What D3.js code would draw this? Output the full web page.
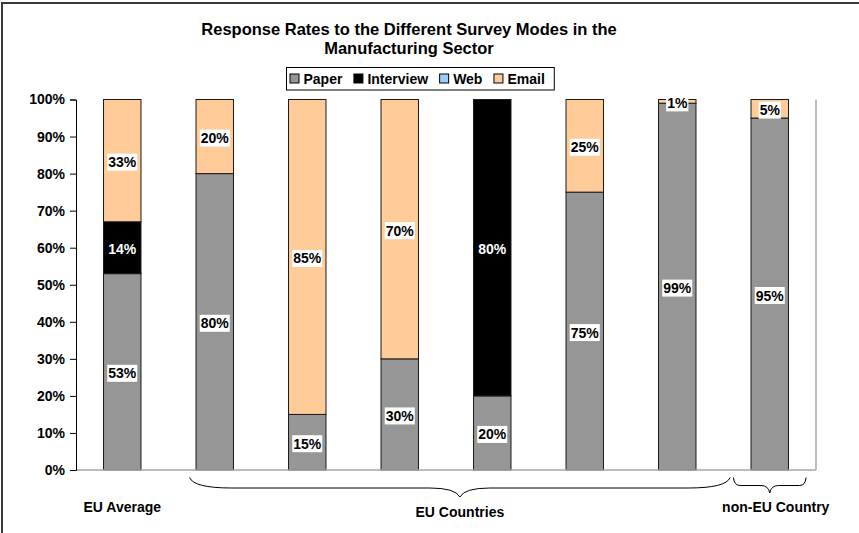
<!DOCTYPE html>
<html>
<head>
<meta charset="utf-8">
<script src="https://cdn.jsdelivr.net/npm/d3@7"></script>
<style>
  html, body { margin: 0; padding: 0; background: #fff; }
  svg { display: block; font-family: Arial, "Liberation Sans", sans-serif; }
</style>
</head>
<body>
<svg id="chart" width="859" height="533"></svg>
<script>
// Response shares (%) per survey mode, one entry per bar
const categories = ["avg", "eu1", "eu2", "eu3", "eu4", "eu5", "eu6", "noneu1"];
const paper     = [53, 80, 15, 30, 20, 75, 99, 95];
const interview = [14,  0,  0,  0, 80,  0,  0,  0];
const web       = [ 0,  0,  0,  0,  0,  0,  0,  0];
const email     = [33, 20, 85, 70,  0, 25,  1,  5];

const seriesNames  = ["Paper", "Interview", "Web", "Email"];
const seriesColors = ["#969696", "#000000", "#99ccff", "#ffcc99"];
const labelOnDark  = [false, true, false, false];

const yTicks = [0, 10, 20, 30, 40, 50, 60, 70, 80, 90, 100];

// Category groups shown beneath the axis
const groupLabels = ["EU Average", "EU Countries", "non-EU Country"];
const groupFirst  = [0, 1, 7];
const groupLast   = [0, 6, 7];
const groupBrace  = [false, true, true];

const title = ["Response Rates to the Different Survey Modes in the", "Manufacturing Sector"];

// ---------------------------------------------------------------
const svg = d3.select("#chart");
const W = 859, H = 533;
const plot = { left: 76, right: 816, top: 99.5, bottom: 470 };

// outer chart frame (top and left edges visible)
svg.append("path")
  .attr("d", `M2,${H} L2,3 L${W},3`)
  .attr("fill", "none")
  .attr("stroke", "#3a3a3a")
  .attr("stroke-width", 2);

// title
const titleG = svg.append("text")
  .attr("text-anchor", "middle")
  .attr("font-weight", "bold")
  .attr("font-size", 16.5)
  .attr("fill", "#000");
title.forEach((line, i) => {
  titleG.append("tspan").attr("x", 409).attr("y", 35 + i * 19).text(line);
});

// scales
const x = d3.scaleBand()
  .domain(categories)
  .range([plot.left, plot.right])
  .paddingInner(0.595)
  .paddingOuter(0.2975);

const y = d3.scaleLinear().domain([0, 100]).range([plot.bottom, plot.top]);

// stacked data
const table = categories.map((c, i) => ({
  cat: c,
  Paper: paper[i], Interview: interview[i], Web: web[i], Email: email[i]
}));
const stacked = d3.stack().keys(seriesNames)(table);

// plot frame: right edge in grey
svg.append("line")
  .attr("x1", plot.right).attr("x2", plot.right)
  .attr("y1", plot.top).attr("y2", plot.bottom)
  .attr("stroke", "#a6a6a6").attr("stroke-width", 1.5);

// bars
const layers = svg.append("g").selectAll("g")
  .data(stacked)
  .join("g")
  .attr("fill", (d, i) => seriesColors[i]);

layers.selectAll("rect")
  .data(d => d.filter(s => s[1] - s[0] > 0))
  .join("rect")
  .attr("x", d => x(d.data.cat))
  .attr("width", x.bandwidth())
  .attr("y", d => y(d[1]))
  .attr("height", d => y(d[0]) - y(d[1]))
  .attr("stroke", "#1a1a1a")
  .attr("stroke-width", 1);

// category axis line
svg.append("line")
  .attr("x1", plot.left).attr("x2", plot.right)
  .attr("y1", plot.bottom).attr("y2", plot.bottom)
  .attr("stroke", "#a6a6a6").attr("stroke-width", 1.5);

// value axis
const yAxis = svg.append("g")
  .attr("transform", `translate(${plot.left},0)`)
  .call(d3.axisLeft(y).tickValues(yTicks).tickSize(6).tickPadding(5)
    .tickFormat(d => d + "%"));
yAxis.select(".domain").attr("stroke", "#000").attr("stroke-width", 1);
yAxis.selectAll(".tick line").attr("stroke", "#000");
yAxis.selectAll(".tick text")
  .attr("font-family", "Arial, 'Liberation Sans', sans-serif")
  .attr("font-size", 14)
  .attr("font-weight", "bold")
  .attr("fill", "#000");

// data labels
const labelG = svg.append("g");
stacked.forEach((layer, si) => {
  layer.forEach(seg => {
    const v = seg[1] - seg[0];
    if (v <= 0) return;
    const cx = x(seg.data.cat) + x.bandwidth() / 2;
    const cy = (y(seg[0]) + y(seg[1])) / 2 + 1.5;
    const g = labelG.append("g");
    const t = g.append("text")
      .attr("x", cx).attr("y", cy)
      .attr("text-anchor", "middle")
      .attr("dominant-baseline", "central")
      .attr("font-size", 14)
      .attr("font-weight", "bold")
      .attr("fill", labelOnDark[si] ? "#fff" : "#000")
      .text(v + "%");
    if (!labelOnDark[si]) {
      const w = t.node().getComputedTextLength();
      g.insert("rect", "text")
        .attr("x", cx - w / 2 - 1).attr("y", cy - 8.5)
        .attr("width", w + 2).attr("height", 17)
        .attr("fill", "#fff");
    }
  });
});

// legend
const legend = svg.append("g");
const legendItems = legend.append("g");
let cursor = 290;
seriesNames.forEach((name, i) => {
  legendItems.append("rect")
    .attr("x", cursor).attr("y", 74)
    .attr("width", 9).attr("height", 9)
    .attr("fill", seriesColors[i])
    .attr("stroke", "#000").attr("stroke-width", 1);
  const t = legendItems.append("text")
    .attr("x", cursor + 13.5).attr("y", 83.5)
    .attr("font-size", 14).attr("font-weight", "bold")
    .text(name);
  cursor += 13.5 + t.node().getComputedTextLength() + 11.5;
});
legend.insert("rect", "g")
  .attr("x", 286.5).attr("y", 67.5)
  .attr("width", cursor - 286.5 - 2).attr("height", 22.5)
  .attr("fill", "#fff")
  .attr("stroke", "#000").attr("stroke-width", 1);

// group labels and braces under the axis
const gx = svg.append("g");
groupLabels.forEach((label, gi) => {
  const a = x(categories[groupFirst[gi]]);
  const b = x(categories[groupLast[gi]]) + x.bandwidth();
  if (!groupBrace[gi]) {
    gx.append("text")
      .attr("x", (a + b) / 2).attr("y", 512)
      .attr("text-anchor", "middle")
      .attr("font-size", 14).attr("font-weight", "bold")
      .text(label);
    return;
  }
  const step = x.step();
  const wide = groupLast[gi] > groupFirst[gi];
  const x1 = wide ? a - 0.07 * step : a - 0.19 * step;
  const x2 = wide ? b + 0.37 * step : b + 0.19 * step;
  const xm = (x1 + x2) / 2;
  const w = x2 - x1;
  const endCurl = Math.min(42, w * 0.09);
  const midCurl = Math.min(30, w * 0.12);
  const y0 = 477.5, y1 = wide ? 488 : 485.5, y2 = wide ? 497 : 493;
  const p = d3.path();
  p.moveTo(x1, y0);
  p.quadraticCurveTo(x1 + endCurl * 0.1, y1, x1 + endCurl, y1);
  p.lineTo(xm - midCurl, y1);
  p.quadraticCurveTo(xm - midCurl * 0.15, y1, xm, y2);
  p.quadraticCurveTo(xm + midCurl * 0.15, y1, xm + midCurl, y1);
  p.lineTo(x2 - endCurl, y1);
  p.quadraticCurveTo(x2 - endCurl * 0.1, y1, x2, y0);
  gx.append("path")
    .attr("d", p.toString())
    .attr("fill", "none")
    .attr("stroke", "#000")
    .attr("stroke-width", 1);
  gx.append("text")
    .attr("x", wide ? xm : xm + 6).attr("y", wide ? 516.5 : 512)
    .attr("text-anchor", "middle")
    .attr("font-size", 14).attr("font-weight", "bold")
    .text(label);
});
</script>
</body>
</html>
